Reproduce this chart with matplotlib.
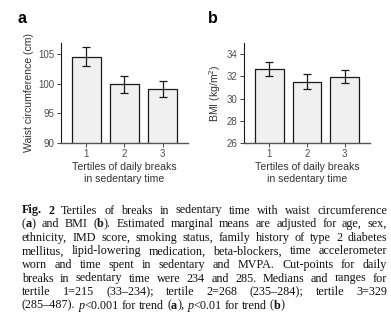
import matplotlib
matplotlib.use("Agg")
import matplotlib.pyplot as plt
import numpy as np

# ---- data ----
tertiles = ["1", "2", "3"]
waist_mean = [104.6, 99.9, 99.2]
waist_err = [1.55, 1.5, 1.35]
bmi_mean = [32.64, 31.52, 31.97]
bmi_err = [0.64, 0.65, 0.6]

xlabel = "Tertiles of daily breaks\nin sedentary time"
ylabel_a = "Waist circumference (cm)"
ylabel_b = "BMI (kg/m$^{2}$)"
waist_ticks = [90, 95, 100, 105]
bmi_ticks = [26, 28, 30, 32, 34]

W, H = 391, 330
fig = plt.figure(figsize=(W / 100, H / 100), dpi=100)
plt.rcParams['font.family'] = ['Liberation Sans', 'DejaVu Sans']

def px(x0, y0, x1, y1):
    return [x0 / W, 1 - y1 / H, (x1 - x0) / W, (y1 - y0) / H]

ax_a = fig.add_axes(px(61, 43, 188, 143))
ax_b = fig.add_axes(px(244, 43, 370, 143))

def draw(ax, means, errs, ylim, ticks, ylabel):
    x = np.arange(1, len(tertiles) + 1)
    ax.bar(x, means, width=0.76, bottom=0, color="#f0f0f0", edgecolor="#1a1a1a",
           linewidth=0.9, zorder=2)
    ax.errorbar(x, means, yerr=errs, fmt="none", ecolor="#1a1a1a", elinewidth=0.9,
                capsize=3.0, capthick=0.9, zorder=3)
    ax.set_xlim(0.33, 3.67)
    ax.set_ylim(*ylim)
    ax.set_yticks(ticks)
    ax.set_xticks(x)
    ax.set_xticklabels(tertiles)
    for s in ["top", "right"]:
        ax.spines[s].set_visible(False)
    ax.spines["left"].set_color("#1a1a1a")
    ax.spines["bottom"].set_color("#555555")
    ax.spines["left"].set_linewidth(0.8)
    ax.spines["bottom"].set_linewidth(1.0)
    ax.tick_params(axis="both", length=3.0, width=0.7, color="#444444",
                   labelsize=7, labelcolor="#4d4d4d", pad=1.5)
    ax.set_xlabel(xlabel, fontsize=7.6, color="#333333", labelpad=2, linespacing=1.25)
    ax.set_ylabel(ylabel, fontsize=7.6, color="#333333", labelpad=3)

draw(ax_a, waist_mean, waist_err, (90, 106.9), waist_ticks, ylabel_a)
draw(ax_b, bmi_mean, bmi_err, (26, 35.0), bmi_ticks, ylabel_b)

fig.text(17 / W, 1 - 23 / H, "a", fontsize=11.5, fontweight="bold", ha="left", va="baseline")
fig.text(208 / W, 1 - 23 / H, "b", fontsize=11.5, fontweight="bold", ha="left", va="baseline")

# ---- caption (justified) ----
N, B, I = "normal", "bold", "italic"
caption = [
    [[("Fig.", B)], [("2", B)], [("Tertiles", N)], [("of", N)], [("breaks", N)], [("in", N)],
     [("sedentary", N)], [("time", N)], [("with", N)], [("waist", N)], [("circumference", N)]],
    [[("(", N), ("a", B), (")", N)], [("and", N)], [("BMI", N)], [("(", N), ("b", B), (").", N)],
     [("Estimated", N)], [("marginal", N)], [("means", N)], [("are", N)], [("adjusted", N)],
     [("for", N)], [("age,", N)], [("sex,", N)]],
    [[(w, N)] for w in "ethnicity, IMD score, smoking status, family history of type 2 diabetes".split()],
    [[(w, N)] for w in "mellitus, lipid-lowering medication, beta-blockers, time accelerometer".split()],
    [[(w, N)] for w in "worn and time spent in sedentary and MVPA. Cut-points for daily".split()],
    [[(w, N)] for w in "breaks in sedentary time were 234 and 285. Medians and ranges for".split()],
    [[(w, N)] for w in "tertile 1=215 (33\u2013234); tertile 2=268 (235\u2013284); tertile 3=329".split()],
    [[("(285\u2013487).", N)], [("p", I), ("<0.001", N)], [("for", N)], [("trend", N)],
     [("(", N), ("a", B), ("),", N)], [("p", I), ("<0.01", N)], [("for", N)], [("trend", N)],
     [("(", N), ("b", B), (")", N)]],
]

cap_left, cap_right = 22, 387
y0, dy = 213.5, 13.6
cap_fs = 8.7
renderer = fig.canvas.get_renderer()

def measure(s):
    t = fig.text(0, 0, s, fontsize=cap_fs, family="Liberation Serif")
    w = t.get_window_extent(renderer).width
    t.remove()
    return w

space_w = measure("a b") - measure("ab")

for li, words in enumerate(caption):
    ybase = 1 - (y0 + li * dy) / H
    objs = []
    widths = []
    for word in words:
        wobjs = []
        wwidth = 0
        for txt, sty in word:
            kw = dict(fontsize=cap_fs, family="Liberation Serif", color="#111111",
                      ha="left", va="baseline")
            if sty == B:
                kw["fontweight"] = "bold"
            if sty == I:
                kw["fontstyle"] = "italic"
            t = fig.text(0, ybase, txt, **kw)
            w = t.get_window_extent(renderer).width
            wobjs.append((t, wwidth))
            wwidth += w
        objs.append(wobjs)
        widths.append(wwidth)
    total = sum(widths)
    last = li == len(caption) - 1
    if last:
        gap = space_w
    else:
        gap = (cap_right - cap_left - total) / (len(words) - 1)
    x = cap_left
    for wobjs, ww in zip(objs, widths):
        for t, off in wobjs:
            t.set_x((x + off) / W)
        x += ww + gap

fig.savefig("out.png", dpi=100)
